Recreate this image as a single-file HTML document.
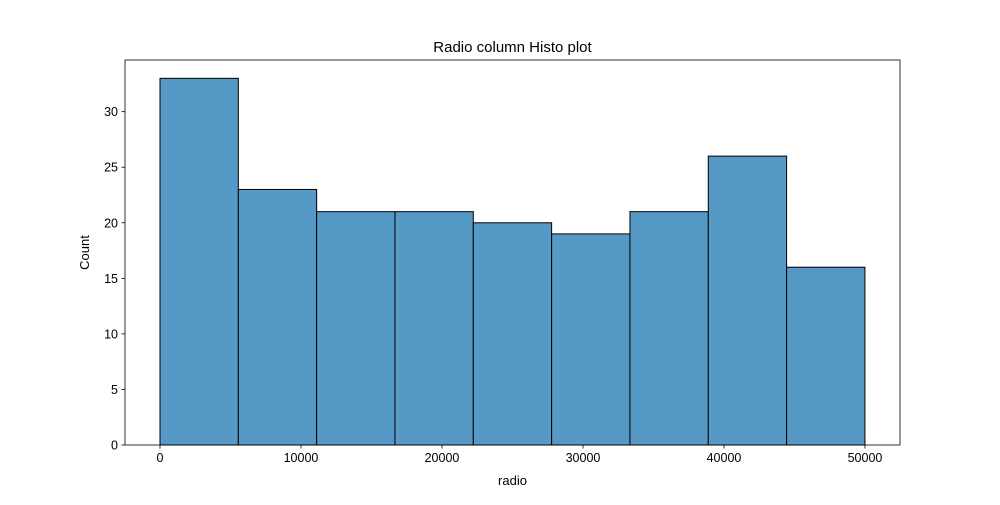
<!DOCTYPE html>
<html><head><meta charset="utf-8">
<style>body{margin:0;background:#fff;font-family:"Liberation Sans","DejaVu Sans",sans-serif}</style>
</head><body>
<svg id="chart" width="1000" height="500" xmlns="http://www.w3.org/2000/svg"></svg>
<script>
const binStart = 0;
const binWidth = 5555;
const counts = [33, 23, 21, 21, 20, 19, 21, 26, 16];
const xTicks = [0, 10000, 20000, 30000, 40000, 50000];
const yTicks = [0, 5, 10, 15, 20, 25, 30];

const L = 125, R = 900, T = 60, B = 445;
const xMin = -2482, xMax = 52482, yMin = 0, yMax = 34.65;
const xs = v => L + (v - xMin) / (xMax - xMin) * (R - L);
const ys = v => B - (v - yMin) / (yMax - yMin) * (B - T);
const svg = document.getElementById('chart');
const NS = 'http://www.w3.org/2000/svg';
function mk(tag, attrs, parent) {
  const e = document.createElementNS(NS, tag);
  for (const k in attrs) e.setAttribute(k, attrs[k]);
  (parent || svg).appendChild(e);
  return e;
}
const bars = mk('g', {});


counts.forEach((c, i) => {
  const x0 = xs(binStart + i * binWidth), x1 = xs(binStart + (i + 1) * binWidth);
  const r = mk('rect', {x: x0, y: ys(c), width: x1 - x0, height: ys(0) - ys(c), fill: '#5799c6', stroke: '#000', 'stroke-width': 1}, bars);
  
  
});
const frame = mk('rect', {x: L, y: T, width: R - L, height: B - T, fill: 'none', stroke: '#000', 'stroke-width': 0.8});


const xa = mk('g', {});


xTicks.forEach(t => {
  const x = xs(t);
  mk('line', {x1: x, x2: x, y1: B, y2: B + 3.5, stroke: '#000', 'stroke-width': 0.8}, xa);
  const tx = mk('text', {x: x, y: B + 17, 'text-anchor': 'middle', 'font-size': 12.5, fill: '#000'}, xa);
  tx.textContent = t;
  
  
});
const ya = mk('g', {});


yTicks.forEach(t => {
  const y = ys(t);
  mk('line', {x1: L - 3.5, x2: L, y1: y, y2: y, stroke: '#000', 'stroke-width': 0.8}, ya);
  const tx = mk('text', {x: L - 7, y: y + 4.5, 'text-anchor': 'end', 'font-size': 12.5, fill: '#000'}, ya);
  tx.textContent = t;
  
  
});
const title = mk('text', {x: (L + R) / 2, y: 52, 'text-anchor': 'middle', 'font-size': 15, fill: '#000'});
title.textContent = 'Radio column Histo plot';


const xl = mk('text', {x: (L + R) / 2, y: 485, 'text-anchor': 'middle', 'font-size': 13, fill: '#000'});
xl.textContent = 'radio';


const yl = mk('text', {x: 89, y: (T + B) / 2, 'text-anchor': 'middle', 'font-size': 13, fill: '#000', transform: 'rotate(-90 89 ' + (T + B) / 2 + ')'});
yl.textContent = 'Count';


</script>
</body></html>
